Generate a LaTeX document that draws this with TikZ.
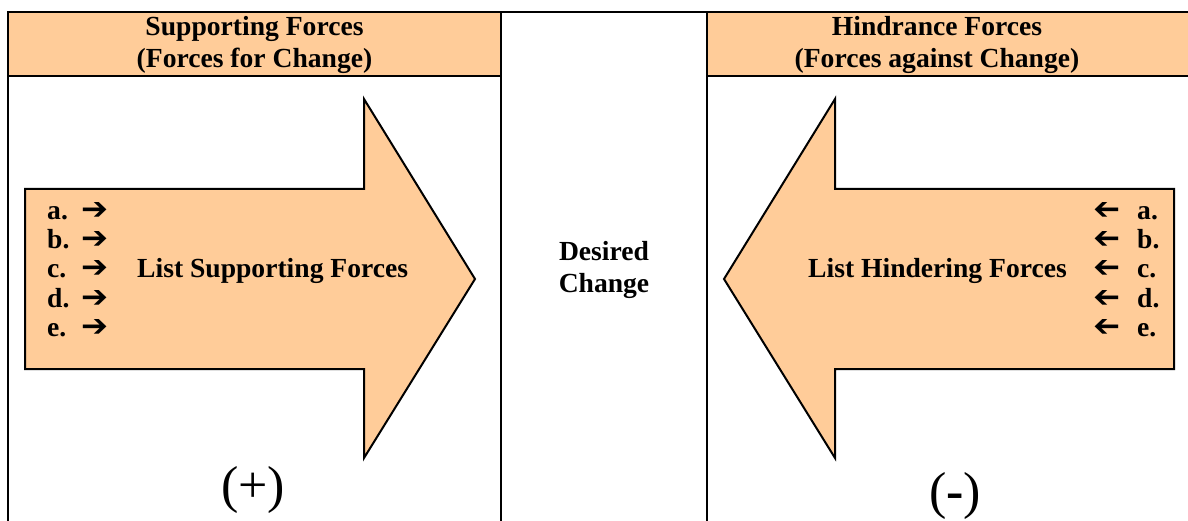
\documentclass[tikz,border=0pt]{standalone}
\usepackage{fontspec}
\usepackage{graphicx}
\setmainfont{Liberation Serif}
\newfontfamily\djv{DejaVu Sans}
\definecolor{peach}{RGB}{255,204,153}
\begin{document}
\begin{tikzpicture}[x=1pt,y=-1pt,
  frameline/.style={line width=2.5pt,line cap=rect},
  bigarrow/.style={fill=peach,draw=black,line width=2pt,line join=miter},
  label/.style={inner sep=0pt,font=\fontsize{27.6}{31.5}\selectfont\bfseries,align=center},
  item/.style={inner sep=0pt,anchor=base west,font=\fontsize{27.6}{31}\selectfont\bfseries},
  glyph/.style={inner sep=0pt,anchor=base west,text height=16pt,text depth=0pt,font=\fontsize{28}{30}\selectfont\djv},
  sign/.style={inner sep=0pt,anchor=base,font=\fontsize{52}{56}\selectfont}]
\useasboundingbox (0,0) rectangle (1188,521);
% header fills
\fill[peach] (8,12) rectangle (501,76);
\fill[peach] (707,12) rectangle (1190,76);
% frame
\draw[frameline] (8,521) -- (8,12) -- (1190,12);
\draw[frameline] (8,76) -- (501,76);
\draw[frameline] (707,76) -- (1190,76);
\draw[frameline] (501,12) -- (501,521);
\draw[frameline] (707,12) -- (707,521);
% arrows
\draw[bigarrow] (25,189) -- (364,189) -- (364,99) -- (475,279) -- (364,458) -- (364,369) -- (25,369) -- cycle;
\draw[bigarrow] (1174,189) -- (835,189) -- (835,99) -- (724,279) -- (835,458) -- (835,369) -- (1174,369) -- cycle;
% headers
\node[label] (hl) at (254.5,45) {Supporting Forces\\(Forces for Change)};
\node[label] (hr) at (937,45) {Hindrance Forces\\(Forces against Change)};
\node[label] (dc) at (604,270) {Desired\\Change};
% lists
\foreach \l [count=\i from 0] in {a,b,c,d,e} {
  \pgfmathsetmacro{\yy}{220+29*\i}
  \node[item] (ll\l) at (47,\yy) {\l.};
  \node[glyph] (la\l) at (81,\yy) {\scalebox{1.15}[1.1]{➔}};
  \node[glyph] (ra\l) at (1093,\yy) {\scalebox{-1.15}[1.1]{➔}};
  \node[item] (rl\l) at (1137,\yy) {\l.};
}
\node[item] (ls) at (137,278) {List Supporting Forces};
\node[item,anchor=base east] (lh) at (1067,278) {List Hindering Forces};
\node[sign] (plus) at (253,502) {(+)};
\node[sign] (minus) at (955,508) {(\textbf{-})};
\end{tikzpicture}
\end{document}
